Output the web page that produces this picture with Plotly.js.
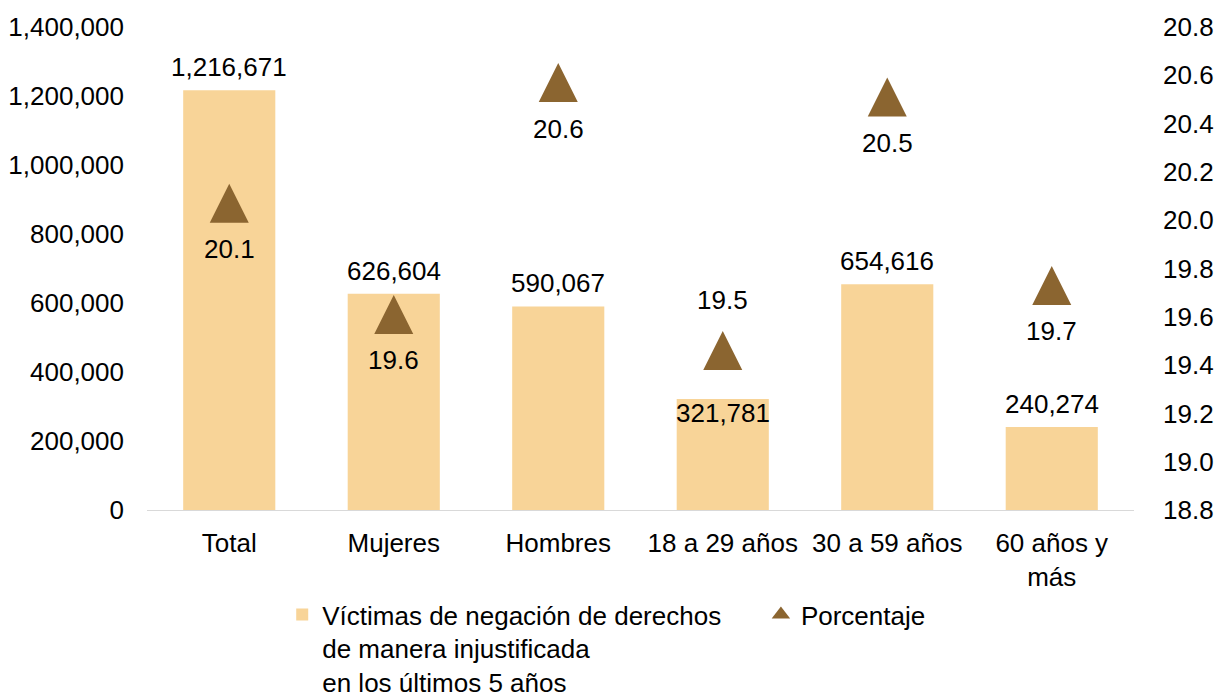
<!DOCTYPE html>
<html>
<head>
<meta charset="utf-8">
<script src="https://cdn.plot.ly/plotly-3.0.1.min.js"></script>
<style>html,body{margin:0;padding:0;background:#fff;}#chart{width:1222px;height:698px;}</style>
</head>
<body>
<div id="chart"></div>
<script>
const categories = ["Total", "Mujeres", "Hombres", "18 a 29 años", "30 a 59 años", "60 años y<br>más"];
const victimas = [1216671, 626604, 590067, 321781, 654616, 240274];
const porcentaje = [20.07, 19.61, 20.57, 19.46, 20.51, 19.73];
const seriesNames = ["Víctimas de negación de derechos<br>de manera injustificada<br>en los últimos 5 años", "Porcentaje"];

const barLabelInside = [false, false, false, true, false, false];
const pctLabelAbove = [false, false, false, true, false, false];

const font = {family: "Liberation Sans, Arial, sans-serif", size: 26, color: "#000"};
const barColor = "#F8D498";
const triColor = "#8B6530";
const markerSize = 39;

const traces = [
  {
    type: "bar", x: categories, y: victimas, name: seriesNames[0],
    marker: {color: barColor},
    width: 0.56,
    hoverinfo: "none",
    legend: "legend"
  },
  {
    type: "scatter", mode: "markers", x: categories, y: porcentaje, name: seriesNames[1],
    yaxis: "y2",
    marker: {symbol: "arrow-down", angle: 180, standoff: markerSize / 2, size: markerSize, color: triColor},
    cliponaxis: false,
    hoverinfo: "none",
    showlegend: false
  },
  {
    type: "scatter", mode: "markers", x: [null], y: [null], name: seriesNames[1],
    yaxis: "y2",
    marker: {symbol: "triangle-up", size: 16, color: triColor},
    hoverinfo: "none",
    legend: "legend2"
  }
];

const pctAnnotations = porcentaje.map((v, i) => ({
  x: categories[i], y: v, xref: "x", yref: "y2",
  text: v.toFixed(1), showarrow: false,
  font: font,
  yshift: pctLabelAbove[i] ? 51 : -46
}));

const barAnnotations = victimas.map((v, i) => ({
  x: categories[i], y: v, xref: "x", yref: "y",
  text: v.toLocaleString("en-US"), showarrow: false,
  font: font,
  yshift: barLabelInside[i] ? -14 : 23
}));

const legendBase = {
  orientation: "h", xanchor: "left", yanchor: "top", y: -0.1677,
  font: font, itemwidth: 30, valign: "top", bgcolor: "rgba(0,0,0,0)"
};

const layout = {
  width: 1222, height: 698,
  margin: {l: 147, r: 88, t: 27, b: 188, autoexpand: false},
  paper_bgcolor: "#fff", plot_bgcolor: "#fff",
  font: font,
  showlegend: true,
  annotations: barAnnotations.concat(pctAnnotations),
  xaxis: {
    showgrid: false, showline: true, linecolor: "#D9D9D9", linewidth: 1,
    ticks: "", tickfont: font, ticklabelstandoff: 10, automargin: false
  },
  yaxis: {
    range: [0, 1400000], dtick: 200000, tickformat: ",d",
    showgrid: false, zeroline: false, showline: false,
    ticks: "", tickfont: font, ticklabelstandoff: 22, automargin: false
  },
  yaxis2: {
    overlaying: "y", side: "right",
    range: [18.8, 20.8], dtick: 0.2, tickformat: ".1f",
    showgrid: false, zeroline: false, showline: false,
    ticks: "", tickfont: font, ticklabelstandoff: 28, automargin: false
  },
  legend: Object.assign({}, legendBase, {x: 0.137}),
  legend2: Object.assign({}, legendBase, {x: 0.622})
};

Plotly.newPlot("chart", traces, layout, {displayModeBar: false, staticPlot: true});
</script>
</body>
</html>
